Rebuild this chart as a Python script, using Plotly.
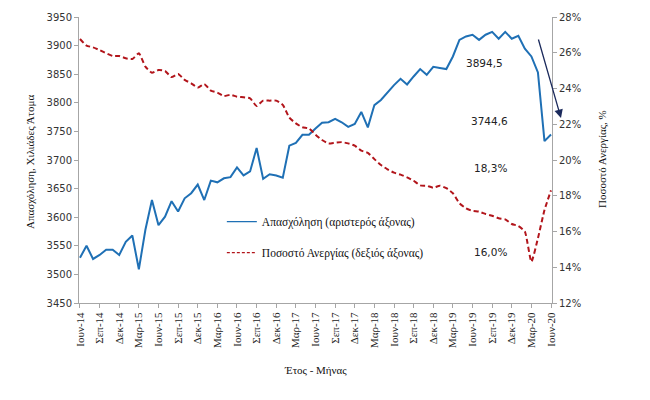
import plotly.graph_objects as go

greek_months = ["Ιαν", "Φεβ", "Μαρ", "Απρ", "Μαϊ", "Ιουν", "Ιουλ", "Αυγ", "Σεπ", "Οκτ", "Νοε", "Δεκ"]
months = []
for k in range(73):
    m = (5 + k) % 12
    y = 14 + (5 + k) // 12
    months.append(f"{greek_months[m]}-{y:02d}")

employment = [3529, 3550, 3527, 3534, 3543, 3543, 3534, 3557, 3568, 3509,
              3578, 3630, 3586, 3601, 3628, 3610, 3633, 3642, 3657, 3630,
              3664, 3661, 3668, 3670, 3687, 3673, 3680, 3721, 3667, 3675,
              3673, 3669, 3725, 3730, 3744, 3744, 3755, 3765, 3766, 3772,
              3766, 3758, 3763, 3784, 3757, 3796, 3805, 3818, 3831, 3842,
              3832, 3846, 3859, 3849, 3863, 3861, 3859, 3881, 3910, 3916,
              3919, 3910, 3919, 3924, 3912, 3924, 3912, 3917, 3894.5, 3881,
              3853, 3733, 3744.6]

unemployment = [26.77, 26.40, 26.30, 26.15, 25.97, 25.82, 25.82, 25.69, 25.65, 25.97,
                25.22, 24.88, 25.03, 24.98, 24.64, 24.81, 24.48, 24.29, 24.05, 24.25,
                23.88, 23.77, 23.58, 23.65, 23.54, 23.51, 23.45, 23.02, 23.32, 23.32,
                23.32, 23.08, 22.37, 22.05, 21.83, 21.77, 21.42, 21.12, 20.93, 20.97,
                21.00, 20.93, 20.80, 20.52, 20.40, 20.05, 19.72, 19.48, 19.29, 19.18,
                19.03, 18.84, 18.58, 18.56, 18.45, 18.56, 18.42, 18.14, 17.58, 17.30,
                17.15, 17.11, 16.98, 16.88, 16.74, 16.68, 16.42, 16.31, 16.00, 14.31,
                15.62, 17.20, 18.30]

tick_labels = months[::3]

BLUE = "#1f70b5"
RED = "#b2151b"
SERIF = "Liberation Serif"
SANS = "DejaVu Sans"

fig = go.Figure()
fig.add_trace(go.Scatter(x=months, y=employment, mode="lines",
                         line=dict(color=BLUE, width=2), showlegend=False, yaxis="y"))
fig.add_trace(go.Scatter(x=months, y=unemployment, mode="lines",
                         line=dict(color=RED, width=2, dash="5px,3px", shape="spline", smoothing=0.5),
                         showlegend=False, yaxis="y2"))
# legend entries (thin samples as in the reference)
fig.add_trace(go.Scatter(x=[None], y=[None], mode="lines", name="Απασχόληση (αριστερός άξονας)",
                         line=dict(color=BLUE, width=1.2), legendgroup="a"))
fig.add_trace(go.Scatter(x=[None], y=[None], mode="lines", name="Ποσοστό Ανεργίας (δεξιός άξονας)",
                         line=dict(color=RED, width=1.2, dash="3px,2px"), legendgroup="b", yaxis="y2"))

axis_col = "#a6a6a6"
fig.update_layout(
    width=650, height=400,
    margin=dict(l=79, r=98, t=17, b=97),
    paper_bgcolor="white", plot_bgcolor="white",
    xaxis=dict(type="category", categoryorder="array", categoryarray=months,
               range=[-0.15, 72.15], tickmode="array", tickvals=tick_labels, ticktext=tick_labels,
               tickangle=-90, tickfont=dict(family=SERIF, size=11, color="#222"),
               showline=True, linecolor=axis_col, linewidth=1, ticks="outside", ticklen=4,
               tickcolor=axis_col, showgrid=False, zeroline=False),
    yaxis=dict(range=[3450, 3950], dtick=50, tickfont=dict(family=SANS, size=10, color="#333"),
               showline=True, linecolor=axis_col, linewidth=1, ticks="outside", ticklen=4,
               tickcolor=axis_col, showgrid=False, zeroline=False),
    yaxis2=dict(range=[12, 28], dtick=2, ticksuffix="%", overlaying="y", side="right",
                tickfont=dict(family=SANS, size=10, color="#333"),
                showline=True, linecolor=axis_col, linewidth=1, ticks="outside", ticklen=4,
                tickcolor=axis_col, showgrid=False, zeroline=False),
    legend=dict(x=0.302, y=0.335, xanchor="left", yanchor="top", bgcolor="rgba(0,0,0,0)",
                font=dict(family=SERIF, size=11.5, color="#111"), tracegroupgap=12,
                traceorder="grouped"),
    showlegend=True,
)

def ann(text, x, y, size=10.5, family=SANS, angle=0, color="#222"):
    fig.add_annotation(text=text, x=x, y=y, xref="paper", yref="paper", showarrow=False,
                       xanchor="center", yanchor="middle", textangle=angle,
                       font=dict(family=family, size=size, color=color))

ann("Απασχόληση, Χιλιάδες Άτομα", -0.1036, 0.493, size=11, family=SERIF, angle=-90, color="#111")
ann("Ποσοστό Ανεργίας, %", 1.1057, 0.5035, size=11, family=SERIF, angle=-90, color="#111")
ann("Έτος - Μήνας", 0.499, -0.234, size=11, family=SERIF, color="#111")
ann("3894,5", 0.858, 0.839)
ann("3744,6", 0.867, 0.636)
ann("18,3%", 0.871, 0.472)
ann("16,0%", 0.871, 0.178)

fig.add_annotation(x=1.019, y=0.647, xref="paper", yref="paper", ax=-23, ay=-80,
                   axref="pixel", ayref="pixel", showarrow=True, arrowhead=2, arrowsize=1.3,
                   arrowwidth=1.3, arrowcolor="#1b2a5c", text="")

fig.write_html("out.html")
